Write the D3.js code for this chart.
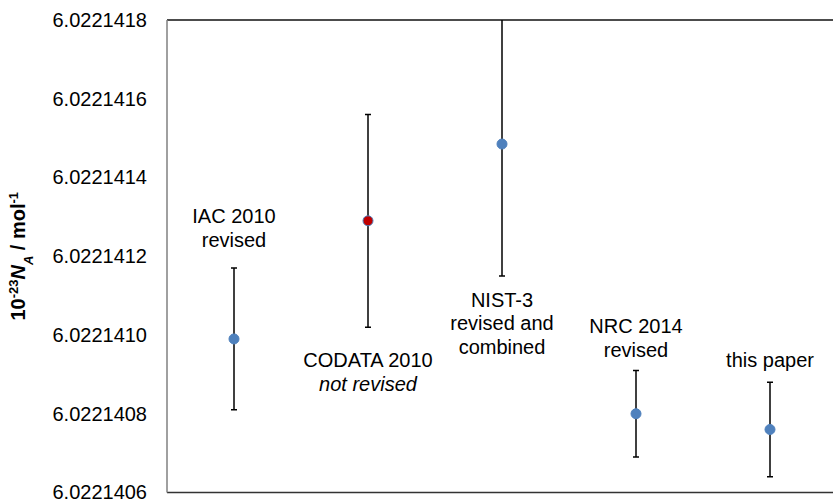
<html>
<head>
    <title>NA values</title>
    <style>
    body {
        margin: 0;
        padding: 0;
        background: white;
        font-family: "Liberation Sans", Arial, sans-serif;
    }
    .tick text {
        font-size: 20px;
        fill: #000;
    }
    .label {
        font-size: 20px;
        fill: #000;
    }
    </style>
</head>
<body>
    <svg width="833" height="501"></svg>
    <script src="https://d3js.org/d3.v7.min.js"></script>
    <script>
    // dati
    var categories = ["IAC 2010", "CODATA 2010", "NIST-3", "NRC 2014", "this paper"];
    var values = [6.02214099, 6.02214129, 6.022141485, 6.02214080, 6.02214076];
    var errors = [0.00000018, 0.00000027, 0.000000335, 0.00000011, 0.00000012];
    var pointColours = ["#4F81BD", "#C00000", "#4F81BD", "#4F81BD", "#4F81BD"];
    var yTicks = [6.0221406, 6.0221408, 6.022141, 6.0221412, 6.0221414, 6.0221416, 6.0221418];

    // etichette: righe di testo, corsivo si/no
    var labelLines = [
        [["IAC 2010", false], ["revised", false]],
        [["CODATA 2010", false], ["not revised", true]],
        [["NIST-3", false], ["revised and", false], ["combined", false]],
        [["NRC 2014", false], ["revised", false]],
        [["this paper", false]]
    ];

    var plotLeft = 167, plotTop = 20, plotBottom = 492.5, plotRight = 837;

    var svg = d3.select("svg");

    var x = d3.scalePoint().domain(categories).range([plotLeft, plotRight]).padding(0.5);
    var y = d3.scaleLinear().domain([6.0221406, 6.0221418]).range([plotBottom, plotTop]);

    // clip sopra il bordo
    svg.append("clipPath").attr("id", "plot")
        .append("rect").attr("x", plotLeft).attr("y", plotTop)
        .attr("width", plotRight - plotLeft).attr("height", plotBottom - plotTop);

    // asse y (solo etichette)
    var yAxis = d3.axisLeft(y)
        .tickValues(yTicks)
        .tickSize(0)
        .tickPadding(20)
        .tickFormat(d3.format(".7f"));

    var gy = svg.append("g")
        .attr("transform", "translate(" + plotLeft + ",0)")
        .call(yAxis);
    gy.select(".domain").remove();
    gy.attr("font-family", null).attr("font-size", null);

    // bordi
    svg.append("line")
        .attr("x1", plotLeft).attr("x2", plotRight).attr("y1", plotTop).attr("y2", plotTop)
        .attr("stroke", "#111").attr("stroke-width", 1.5);
    svg.append("line")
        .attr("x1", plotLeft).attr("x2", plotRight).attr("y1", plotBottom).attr("y2", plotBottom)
        .attr("stroke", "#333").attr("stroke-width", 1.5);
    svg.append("line")
        .attr("x1", plotLeft).attr("x2", plotLeft).attr("y1", plotTop).attr("y2", plotBottom)
        .attr("stroke", "#808080").attr("stroke-width", 1.5);

    // titolo asse y
    var title = svg.append("text")
        .attr("transform", "translate(25," + ((plotTop + plotBottom) / 2) + ") rotate(-90)")
        .attr("text-anchor", "middle")
        .style("font-size", "20px")
        .style("font-weight", "bold");
    title.append("tspan").text("10");
    title.append("tspan").attr("baseline-shift", "super").style("font-size", "13px").text("-23");
    title.append("tspan").style("font-style", "italic").text("N");
    title.append("tspan").attr("baseline-shift", "sub").style("font-size", "13px").style("font-style", "italic").text("A");
    title.append("tspan").text(" / mol");
    title.append("tspan").attr("baseline-shift", "super").style("font-size", "13px").text("-1");

    var data = categories.map(function(c, i) {
        return { cat: c, value: values[i], err: errors[i], colour: pointColours[i], lines: labelLines[i] };
    });

    var g = svg.append("g").attr("clip-path", "url(#plot)");

    // barre di errore
    var bars = g.selectAll(".err")
        .data(data)
        .enter()
        .append("g")
        .attr("class", "err");

    bars.append("line")
        .attr("x1", function(d) { return x(d.cat) })
        .attr("x2", function(d) { return x(d.cat) })
        .attr("y1", function(d) { return y(d.value + d.err) })
        .attr("y2", function(d) { return y(d.value - d.err) })
        .attr("stroke", "#000")
        .attr("stroke-width", 1.5);

    [1, -1].forEach(function(s) {
        bars.append("line")
            .attr("x1", function(d) { return x(d.cat) - 3 })
            .attr("x2", function(d) { return x(d.cat) + 3 })
            .attr("y1", function(d) { return y(d.value + s * d.err) })
            .attr("y2", function(d) { return y(d.value + s * d.err) })
            .attr("stroke", "#000")
            .attr("stroke-width", 1.5);
    });

    // punti
    g.selectAll(".pt")
        .data(data)
        .enter()
        .append("circle")
        .attr("class", "pt")
        .attr("cx", function(d) { return x(d.cat) })
        .attr("cy", function(d) { return y(d.value) })
        .attr("r", 5)
        .attr("fill", function(d) { return d.colour })
        .attr("stroke", "#4F81BD")
        .attr("stroke-width", 1);

    // etichette: baseline della prima riga rispetto alla barra di errore
    // (sopra = distanza dalla cima, sotto = distanza dal fondo)
    var labelPlace = [
        { side: "above", dy: -45 },
        { side: "below", dy: 40 },
        { side: "below", dy: 31 },
        { side: "above", dy: -37 },
        { side: "above", dy: -15 }
    ];
    var lineHeight = 23.5;

    svg.selectAll(".label")
        .data(data)
        .enter()
        .append("text")
        .attr("class", "label")
        .attr("text-anchor", "middle")
        .each(function(d, i) {
            var p = labelPlace[i];
            var base = p.side == "above" ? y(d.value + d.err) : y(d.value - d.err);
            var t = d3.select(this);
            d.lines.forEach(function(l, j) {
                t.append("tspan")
                    .attr("x", x(d.cat))
                    .attr("y", base + p.dy + j * lineHeight)
                    .style("font-style", l[1] ? "italic" : null)
                    .text(l[0]);
            });
        });
    </script>
</body>
</html>
